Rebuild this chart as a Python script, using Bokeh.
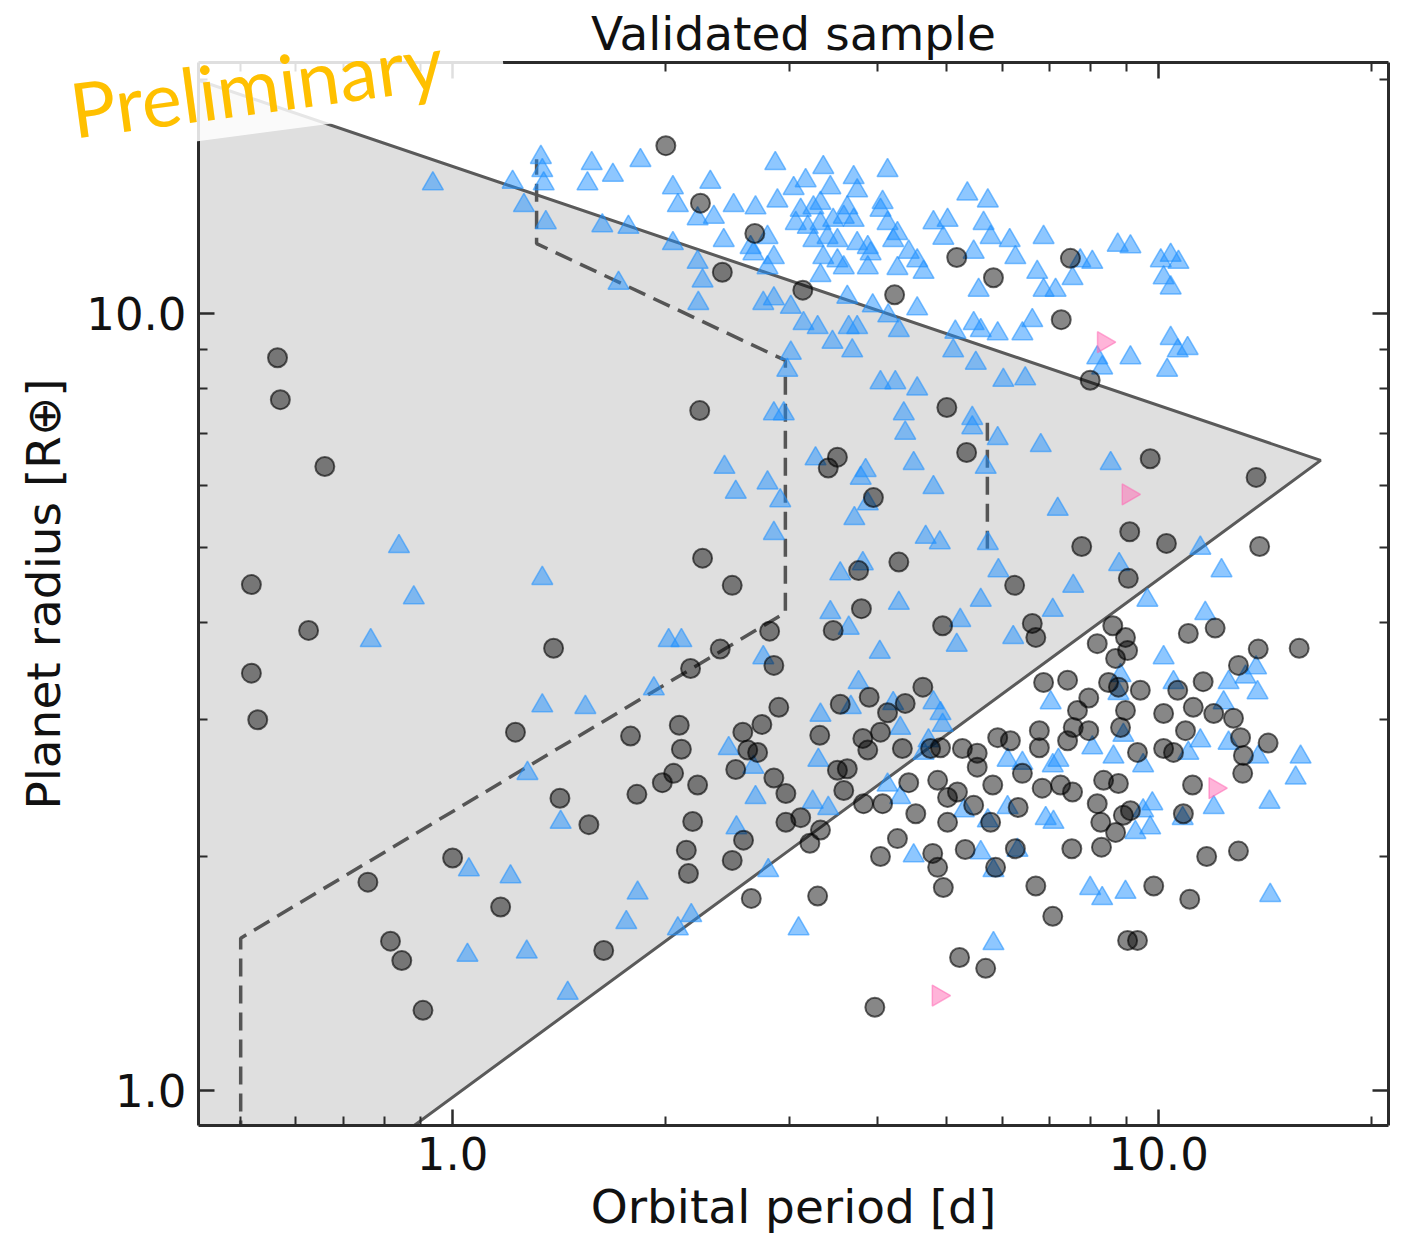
import numpy as np
from bokeh.plotting import figure
from bokeh.layouts import column
from bokeh.models import (Range1d, FixedTicker, PrintfTickFormatter, LogAxis)
from bokeh.embed import file_html
from bokeh.resources import INLINE

# ---------------- data (log10 values) ----------------
circle_log_period = [
    -0.248, -0.244, -0.181, -0.285, -0.204, -0.285, -0.276, -0.120, -0.088, -0.072,
    -0.042, 0.000, 0.068, 0.089, 0.302, 0.351, 0.428, 0.382, 0.496, 0.626,
    0.714, 0.766, 0.350, 0.700, 0.875, 0.862, 0.903, 0.354, 0.396, 0.143,
    0.449, 0.379, 0.337, 0.455, 0.462, 0.545, 0.532, 0.596, 0.728, 0.575,
    0.632, 0.579, 0.539, 0.694, 0.549, 0.590, 0.666, 0.641, 0.616, 0.321,
    0.438, 0.988, 1.138, 0.959, 0.891, 1.011, 1.143, 0.957, 0.796, 0.821,
    0.826, 0.935, 0.953, 0.913, 0.956, 0.939, 1.042, 1.080, 1.141, 1.199,
    1.113, 0.837, 0.871, 0.929, 0.943, 0.974, 1.027, 1.063, 0.901, 0.885,
    0.953, 1.007, 1.049, 1.078, 1.106, 0.252, 0.324, 0.411, 0.418, 0.432,
    0.401, 0.520, 0.581, 0.606, 0.588, 0.637, 0.677, 0.691, 0.722, 0.743,
    0.743, 0.772, 0.765, 0.559, 0.545, 0.554, 0.455, 0.472, 0.313, 0.297,
    0.347, 0.261, 0.152, 0.193, 0.340, 0.646, 0.687, 0.701, 0.715, 0.582,
    0.609, 0.656, 0.701, 0.738, 0.762, 0.472, 0.493, 0.521, 0.506, 0.412,
    0.396, 0.331, 0.334, 0.214, 0.423, 0.517, 0.630, 0.606, 0.680, 0.687,
    0.695, 0.726, 0.769, 0.718, 0.755, 0.598, 0.790, 0.831, 0.831, 0.871,
    0.879, 0.901, 0.946, 0.970, 1.007, 1.021, 1.038, 1.116, 1.155, 1.120,
    1.119, 0.807, 0.835, 0.861, 0.878, 0.922, 0.943, 0.913, 0.918, 0.939,
    0.960, 0.950, 0.801, 1.048, 1.035, 0.797, 0.877, 0.919, 1.068, 1.113,
    0.826, 0.993, 1.044, 0.850, 0.956, 0.970,
]
circle_log_radius = [
    0.943, 0.889, 0.803, 0.651, 0.592, 0.537, 0.477, 0.268, 0.192, 0.167,
    0.103, 0.299, 0.236, 0.461, 1.216, 1.142, 1.103, 1.053, 1.030, 1.024,
    1.072, 1.046, 0.875, 0.879, 1.071, 0.992, 0.914, 0.685, 0.650, 0.569,
    0.591, 0.568, 0.543, 0.547, 0.493, 0.815, 0.801, 0.763, 0.821, 0.669,
    0.680, 0.620, 0.592, 0.598, 0.497, 0.506, 0.519, 0.498, 0.486, 0.470,
    0.471, 0.813, 0.789, 0.719, 0.700, 0.704, 0.700, 0.659, 0.650, 0.601,
    0.583, 0.598, 0.583, 0.575, 0.566, 0.556, 0.588, 0.595, 0.568, 0.569,
    0.547, 0.525, 0.528, 0.525, 0.519, 0.515, 0.515, 0.526, 0.505, 0.489,
    0.489, 0.485, 0.493, 0.485, 0.479, 0.456, 0.439, 0.461, 0.438, 0.435,
    0.413, 0.457, 0.453, 0.461, 0.438, 0.440, 0.440, 0.441, 0.440, 0.434,
    0.416, 0.454, 0.393, 0.414, 0.412, 0.386, 0.402, 0.382, 0.408, 0.396,
    0.393, 0.381, 0.376, 0.342, 0.346, 0.396, 0.399, 0.377, 0.384, 0.369,
    0.369, 0.356, 0.345, 0.367, 0.345, 0.345, 0.351, 0.335, 0.318, 0.322,
    0.296, 0.309, 0.279, 0.180, 0.247, 0.250, 0.324, 0.301, 0.305, 0.287,
    0.261, 0.310, 0.287, 0.171, 0.157, 0.107, 0.450, 0.463, 0.441, 0.450,
    0.467, 0.463, 0.467, 0.435, 0.440, 0.435, 0.463, 0.454, 0.447, 0.431,
    0.408, 0.408, 0.389, 0.393, 0.384, 0.399, 0.395, 0.369, 0.345, 0.332,
    0.360, 0.354, 0.364, 0.393, 0.356, 0.311, 0.311, 0.313, 0.301, 0.308,
    0.263, 0.263, 0.246, 0.224, 0.193, 0.193,
]

triangle_log_period = [
    -0.028, -0.076, -0.055, -0.116, 0.021, 0.023, 0.085, 0.125, 0.127, 0.129,
    0.101, 0.132, 0.197, 0.191, 0.227, 0.266, 0.312, 0.319, 0.365, 0.347,
    0.370, 0.398, 0.429, 0.460, 0.457, 0.483, 0.500, 0.525, 0.535, 0.568,
    0.573, 0.616, 0.609, 0.606, 0.493, 0.511, 0.521, 0.559, 0.486, 0.503,
    0.521, 0.539, 0.554, 0.568, 0.616, 0.630, 0.511, 0.531, 0.545, 0.573,
    0.588, 0.592, 0.588, 0.525, 0.545, 0.554, 0.624, 0.646, 0.658, 0.667,
    0.630, 0.681, 0.701, 0.729, 0.758, 0.695, 0.738, 0.752, 0.762, 0.745,
    0.772, 0.384, 0.422, 0.426, 0.446, 0.455, 0.446, 0.521, 0.312, 0.347,
    0.354, 0.348, 0.212, 0.249, 0.235, 0.440, 0.455, 0.479, 0.497, 0.517,
    0.538, 0.566, 0.561, 0.573, 0.559, 0.595, 0.617, 0.632, 0.658, 0.712,
    0.709, 0.738, 0.748, 0.741, 0.479, 0.474, 0.606, 0.627, 0.658, 0.455,
    0.469, 0.639, 0.736, 0.789, 0.837, 0.797, 0.828, 0.837, 0.854, 0.878,
    0.906, 0.889, 0.942, 0.960, 1.003, 1.017, 1.028, 1.007, 1.017, 0.821,
    0.807, 1.017, 1.027, 1.041, 0.960, 0.913, 0.920, 1.012, 0.780, 0.811,
    0.385, 0.401, 0.446, 0.464, 0.455, 0.127, 0.306, 0.324, 0.285, 0.127,
    0.188, 0.440, 0.514, 0.578, 0.585, 0.588, 0.569, 0.653, 0.681, 0.641,
    0.736, 0.772, 0.755, 0.670, 0.690, 0.758, 0.773, 0.549, 0.581, 0.632,
    0.748, 0.535, 0.561, 0.719, 0.714, 0.605, 0.575, 0.521, 0.564, 0.681,
    0.691, 0.624, 0.833, 0.932, 0.857, 0.879, 0.944, 0.850, 0.794, 1.059,
    1.089, 0.984, 1.066, 1.007, 1.021, 1.099, 1.123, 1.138, 1.140, 0.847,
    1.092, 0.946, 0.943, 0.106, 0.153, 0.082, 0.262, 0.246, 0.105, 0.163,
    0.319, 0.338, 0.391, 0.426, 0.429, 0.402, 0.518, 0.510, 0.532, 0.447,
    0.490, 0.634, 0.694, 0.674, 0.616, 0.634, 0.667, 0.653, 0.724, 0.748,
    0.766, 0.766, 0.758, 0.906, 0.936, 0.950, 0.786, 0.807, 0.850, 0.858,
    0.978, 1.042, 1.059, 1.099, 1.141, 1.201, 1.194, 1.078, 1.157, 0.840,
    0.851, 0.786, 0.991, 0.978, 0.988, 0.967, 1.034, 0.903, 0.920, 0.953,
    1.158, 0.800,
]
triangle_log_radius = [
    1.167, 0.700, 0.634, 0.579, 0.174, 0.284, 1.169, 1.201, 1.184, 1.167,
    1.139, 1.117, 1.193, 1.167, 1.178, 1.197, 1.162, 1.139, 1.169, 1.122,
    1.124, 1.139, 1.136, 1.145, 1.193, 1.161, 1.171, 1.188, 1.162, 1.175,
    1.158, 1.184, 1.143, 1.133, 1.133, 1.136, 1.142, 1.136, 1.116, 1.111,
    1.116, 1.120, 1.124, 1.120, 1.116, 1.103, 1.094, 1.098, 1.094, 1.090,
    1.085, 1.077, 1.059, 1.072, 1.068, 1.059, 1.094, 1.079, 1.068, 1.053,
    1.058, 1.117, 1.120, 1.154, 1.145, 1.097, 1.079, 1.116, 1.098, 1.030,
    0.974, 1.094, 1.085, 1.077, 1.098, 1.072, 1.059, 1.049, 1.090, 1.066,
    1.042, 1.013, 1.113, 1.111, 1.039, 1.013, 1.019, 1.008, 0.987, 0.982,
    0.963, 0.952, 0.982, 0.982, 1.021, 1.010, 0.997, 0.978, 1.006, 0.976,
    0.952, 0.987, 0.978, 0.936, 0.949, 0.927, 0.911, 0.911, 0.903, 0.871,
    0.871, 0.871, 0.865, 1.094, 1.098, 1.072, 1.053, 1.030, 1.030, 1.045,
    1.066, 1.068, 1.088, 1.086, 1.068, 1.075, 1.066, 1.046, 1.033, 0.991,
    0.974, 0.968, 0.952, 0.955, 0.943, 0.943, 0.930, 0.927, 0.914, 0.916,
    0.802, 0.770, 0.782, 0.759, 0.717, 0.659, 0.579, 0.579, 0.517, 0.495,
    0.493, 0.557, 0.813, 0.788, 0.798, 0.755, 0.736, 0.807, 0.776, 0.846,
    0.853, 0.839, 0.802, 0.712, 0.705, 0.704, 0.669, 0.665, 0.678, 0.627,
    0.631, 0.615, 0.595, 0.605, 0.573, 0.564, 0.525, 0.483, 0.493, 0.499,
    0.485, 0.498, 0.830, 0.807, 0.748, 0.649, 0.677, 0.618, 0.583, 0.698,
    0.669, 0.631, 0.614, 0.557, 0.525, 0.525, 0.532, 0.544, 0.512, 0.499,
    0.499, 0.534, 0.511, 0.408, 0.345, 0.275, 0.254, 0.216, 0.178, 0.125,
    0.208, 0.225, 0.440, 0.416, 0.377, 0.338, 0.425, 0.371, 0.363, 0.283,
    0.208, 0.466, 0.470, 0.450, 0.393, 0.377, 0.434, 0.302, 0.360, 0.306,
    0.283, 0.189, 0.347, 0.441, 0.429, 0.457, 0.425, 0.421, 0.418, 0.425,
    0.418, 0.434, 0.450, 0.447, 0.429, 0.429, 0.402, 0.364, 0.371, 0.350,
    0.345, 0.364, 0.369, 0.360, 0.338, 0.332, 0.350, 0.260, 0.247, 0.255,
    0.251, 0.309,
]

pink_log_period = [0.922, 0.957, 1.080, 0.688]
pink_log_radius = [0.963, 0.767, 0.389, 0.122]

# Neptunian desert boundary (upper and lower edges meeting at the apex)
desert_period = [0.30, 16.96, 0.738]
desert_radius = [22.4, 6.47, 0.80]

# dashed boundaries
ridge_period = [0.501, 0.501, 2.96, 2.96, 1.315, 1.315]
ridge_radius = [0.80, 1.57, 4.12, 8.70, 12.3, 15.8]
ridge2_period = [5.72, 5.72]
ridge2_radius = [4.98, 7.43]

x_major = [1, 10]
x_minor = [0.5, 0.6, 0.7, 0.8, 0.9, 2, 3, 4, 5, 6, 7, 8, 9, 20]
y_major = [1, 10]
y_minor = [2, 3, 4, 5, 6, 7, 8, 9, 20]

title_text = "Validated sample"
xlabel_text = "Orbital period [d]"
ylabel_text = "Planet radius [R\u2295]"
watermark_text = "Preliminary"

# ---------------- main figure ----------------
X0, X1 = 0.4366, 21.16
Y0, Y1 = 0.901, 21.04
TXT = "#111111"

p = figure(width=1391, height=1237, x_axis_type="log", y_axis_type="log",
           x_range=Range1d(X0, X1), y_range=Range1d(Y0, Y1),
           output_backend="svg", toolbar_location=None, title=title_text,
           min_border_left=198, min_border_right=3, min_border_top=62,
           min_border_bottom=112)
p.frame_align = False
p.outline_line_color = None
p.background_fill_color = "white"
p.border_fill_color = "white"
p.xgrid.visible = False
p.ygrid.visible = False

p.title.text_font = "DejaVu Sans"
p.title.text_font_size = "47px"
p.title.text_font_style = "normal"
p.title.text_color = TXT
p.title.align = "center"
p.title.standoff = 4

AX = "#2b2b2b"


def style_axis(ax, major, minor, show_labels, standoff=8):
    ax.ticker = FixedTicker(ticks=major, minor_ticks=minor)
    ax.formatter = PrintfTickFormatter(format="%.1f")
    ax.axis_line_color = AX
    ax.axis_line_width = 3
    ax.major_tick_in = 16
    ax.major_tick_out = 0
    ax.minor_tick_in = 9
    ax.minor_tick_out = 0
    ax.major_tick_line_color = AX
    ax.minor_tick_line_color = AX
    ax.major_tick_line_width = 2.5
    ax.minor_tick_line_width = 2
    if show_labels:
        ax.major_label_text_font = "DejaVu Sans"
        ax.major_label_text_font_size = "45px"
        ax.major_label_text_color = TXT
        ax.major_label_standoff = standoff
        ax.axis_label_text_font = "DejaVu Sans"
        ax.axis_label_text_font_size = "47px"
        ax.axis_label_text_font_style = "normal"
        ax.axis_label_text_color = TXT
    else:
        ax.major_label_text_font_size = "0px"
        ax.major_label_text_alpha = 0
        ax.major_label_standoff = 0


style_axis(p.xaxis[0], x_major, x_minor, True, standoff=11)
style_axis(p.yaxis[0], y_major, y_minor, True, standoff=12)
p.xaxis[0].axis_label = xlabel_text
p.xaxis[0].axis_label_standoff = 6
p.yaxis[0].axis_label = ylabel_text
p.yaxis[0].axis_label_standoff = 12

top_ax = LogAxis()
right_ax = LogAxis()
style_axis(top_ax, x_major, x_minor, False)
style_axis(right_ax, y_major, y_minor, False)
p.add_layout(top_ax, "above")
p.add_layout(right_ax, "right")

# desert region
patch_x = desert_period + [min(desert_period)]
patch_y = desert_radius + [min(desert_radius)]
p.patch(patch_x, patch_y, fill_color="#dfdfdf", line_color=None)
p.line(desert_period, desert_radius, line_color="#5a5a5a", line_width=3)
p.line(ridge_period, ridge_radius, line_color="#555555", line_width=3.5,
       line_dash="18 9")
p.line(ridge2_period, ridge2_radius, line_color="#555555", line_width=3.5,
       line_dash="18 9")

# points
tx = 10 ** np.array(triangle_log_period)
ty = 10 ** np.array(triangle_log_radius)
cx = 10 ** np.array(circle_log_period)
cy = 10 ** np.array(circle_log_radius)
pkx = 10 ** np.array(pink_log_period)
pky = 10 ** np.array(pink_log_radius)

p.scatter(tx, ty, marker="triangle", size=21, fill_color="#1e90ff",
          fill_alpha=0.5, line_color="#1e90ff", line_alpha=0.55, line_width=1.5)
p.scatter(cx, cy, marker="circle", size=19, fill_color="black",
          fill_alpha=0.47, line_color="black", line_alpha=0.6, line_width=2)
p.scatter(pkx, pky, marker="triangle", angle=-np.pi / 2, size=21,
          fill_color="#ff69b4", fill_alpha=0.5, line_color="#ff69b4",
          line_alpha=0.55, line_width=1.5)

# ---------------- "Preliminary" watermark overlay (page pixels) ----------------
WM_W, WM_H = 600, 200
wm = figure(width=WM_W, height=WM_H, output_backend="svg", toolbar_location=None,
            title=None, x_range=Range1d(0, WM_W), y_range=Range1d(WM_H, 0),
            x_axis_location=None, y_axis_location=None,
            min_border_left=0, min_border_right=0, min_border_top=0,
            min_border_bottom=0)
wm.frame_align = False
wm.grid.visible = False
wm.outline_line_color = None
wm.background_fill_alpha = 0
wm.border_fill_alpha = 0
wm.patch([150, 507, 493, 150], [147, 100, -20, -20], fill_color="white",
         fill_alpha=0.85, line_color=None)
wm.text(x=[70], y=[109], text=[watermark_text], angle=np.deg2rad(7.7),
        text_font={"value": "Lato"}, text_font_size="76px",
        text_color="#ffc000", text_align="left", text_baseline="alphabetic")
wm.styles = {"position": "absolute", "left": "0px", "top": "0px",
             "z-index": "10"}

layout = column(p, wm, spacing=0)
open("out.html", "w").write(file_html(layout, INLINE))
